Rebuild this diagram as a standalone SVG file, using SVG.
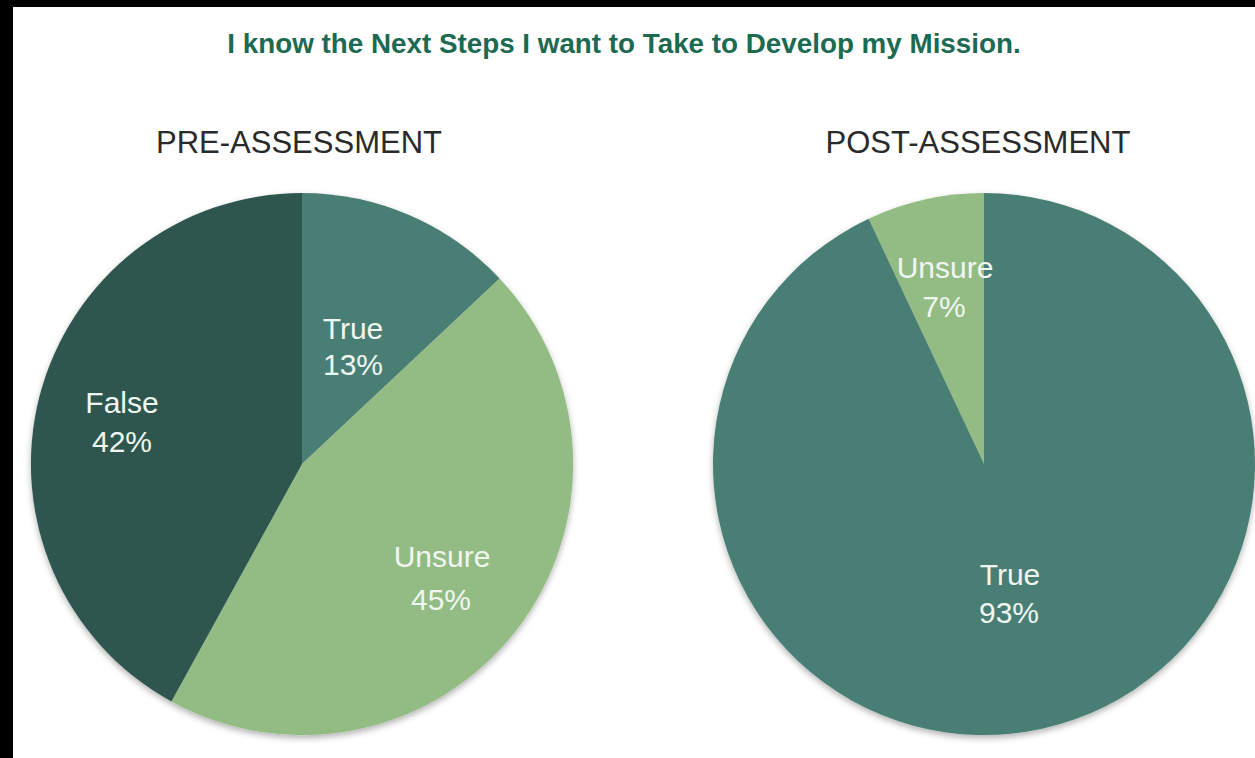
<svg xmlns="http://www.w3.org/2000/svg" width="1255" height="758" viewBox="0 0 1255 758">
<defs>
<style>
.title{font-family:"Liberation Sans",Arial,sans-serif;font-weight:bold;font-size:27.8px;fill:#1c6a52;text-anchor:middle}
.head{font-family:"Liberation Sans",Arial,sans-serif;font-size:31px;fill:#2a2a2a;text-anchor:middle}
.lbl{font-family:"Liberation Sans",Arial,sans-serif;font-size:30px;fill:#f0f6ef;text-anchor:middle}
.dark{fill:#2e5650}
.mid{fill:#4a7e74}
.light{fill:#93bb84}
</style>
<filter id="sh" x="-10%" y="-10%" width="120%" height="120%">
<feDropShadow dx="0" dy="3" stdDeviation="3" flood-color="#000" flood-opacity="0.3"/>
</filter>
</defs>
<rect width="1255" height="758" fill="#ffffff"/>
<rect x="0" y="0" width="1255" height="7" fill="#000"/>
<rect x="0" y="0" width="13" height="758" fill="#000"/>
<text class="title" x="624" y="53">I know the Next Steps I want to Take to Develop my Mission.</text>
<g id="pre">
<text class="head" x="299" y="153">PRE-ASSESSMENT</text>
<g filter="url(#sh)">
<path class="mid" d="M302,464 L302,193 A271,271 0 0 1 499.6,278.5 Z"/>
<path class="light" d="M302,464 L499.6,278.5 A271,271 0 0 1 171.4,701.5 Z"/>
<path class="dark" d="M302,464 L171.4,701.5 A271,271 0 0 1 302,193 Z"/>
</g>
<text class="lbl" x="353" y="339">True</text>
<text class="lbl" x="353" y="375">13%</text>
<text class="lbl" x="122" y="413">False</text>
<text class="lbl" x="122" y="452">42%</text>
<text class="lbl" x="442" y="567">Unsure</text>
<text class="lbl" x="441" y="610">45%</text>
</g>
<g id="post">
<text class="head" x="978" y="153">POST-ASSESSMENT</text>
<g filter="url(#sh)">
<path class="light" d="M984,464 L984,193 A271,271 0 0 0 868.6,218.8 Z"/>
<path class="mid" d="M984,464 L868.6,218.8 A271,271 0 1 0 984,193 Z"/>
</g>
<text class="lbl" x="945" y="278">Unsure</text>
<text class="lbl" x="944" y="317">7%</text>
<text class="lbl" x="1010" y="585">True</text>
<text class="lbl" x="1009" y="623">93%</text>
</g>
</svg>
